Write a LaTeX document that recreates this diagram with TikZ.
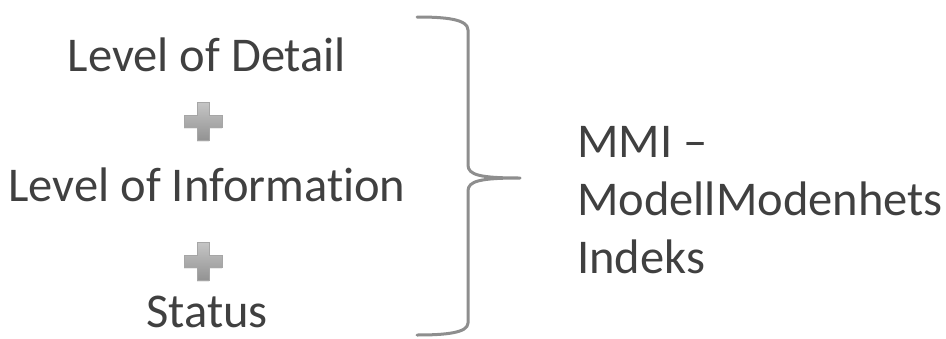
\documentclass[tikz,border=0pt]{standalone}
\usepackage{fontspec}
\setmainfont{Carlito}[Ligatures=NoCommon]
\usetikzlibrary{shadows}
\definecolor{txt}{HTML}{404040}
\definecolor{brc}{HTML}{8E8E8E}
\tikzset{
  lbl/.style={text=txt, font=\fontsize{48.5}{58}\selectfont, inner sep=0pt},
  brace/.style={draw=brc, line width=3pt, line join=round, line cap=round},
  plussign/.pic={
    \shade[top color=gray!45, bottom color=gray!85, draw=gray!70, line width=0.4pt,
      drop shadow={shadow xshift=0pt, shadow yshift=-1.5pt, opacity=0.25}]
      (-6,-19) -- (6,-19) -- (6,-6) -- (19,-6) -- (19,6) -- (6,6) -- (6,19)
      -- (-6,19) -- (-6,6) -- (-19,6) -- (-19,-6) -- (-6,-6) -- cycle;
  }
}
\begin{document}
\begin{tikzpicture}[x=1pt, y=-1pt]
  \useasboundingbox (0,0) rectangle (946,338);
  \node[lbl] (lod) at (207,55) {Level of Detail};
  \pic at (203,121) {plussign};
  \node[lbl] (loi) at (207,185) {Level of Information};
  \pic at (203,261) {plussign};
  \node[lbl, anchor=base] (status) at (207,327) {Status};
  % curly brace joining the three terms
  \coordinate (btop) at (417,17);
  \coordinate (bbot) at (417,335);
  \coordinate (btip) at (520,178);
  \draw[brace] (btop) .. controls (445,17) and (468,19) .. (468,30)
    -- (468,165) .. controls (468,175) and (480,178) .. (btip)
    .. controls (480,178) and (468,181) .. (468,191)
    -- (468,323) .. controls (468,333) and (445,335) .. (bbot);
  % the base anchor of this node sits on its last line
  \node[lbl, anchor=base west, align=left] (mmi) at (577,273)
    {MMI –\\ModellModenhets\\Indeks};
\end{tikzpicture}
\end{document}
